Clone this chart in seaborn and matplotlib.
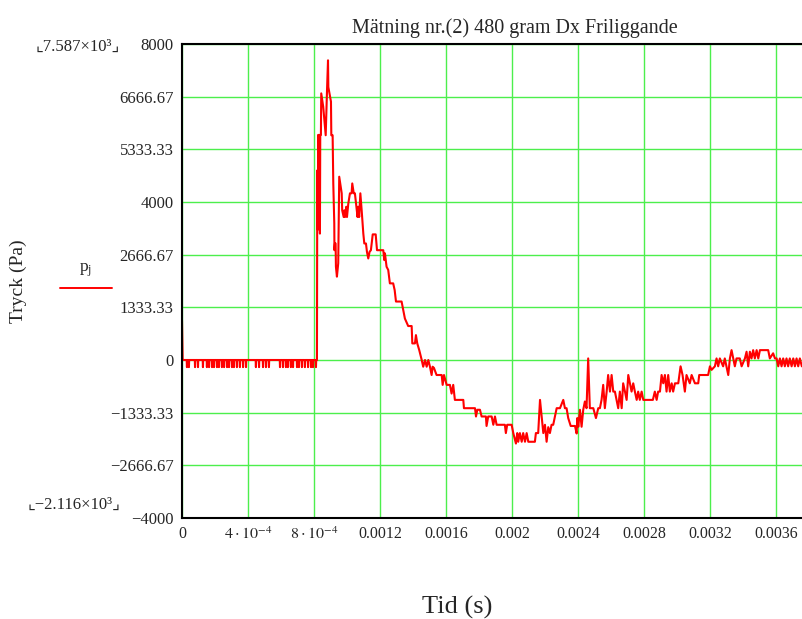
import numpy as np
import pandas as pd
import seaborn as sns
import matplotlib.pyplot as plt
from matplotlib.lines import Line2D

# baseline before the pulse: start value and the small negative dips (us)
start_pa = 1000
dip_us = [30, 42, 79, 97, 127, 151, 164, 182, 194, 212, 224, 242, 255, 273, 285,
          303, 315, 333, 351, 370, 388, 448, 467, 491, 509, 527, 594, 612, 630,
          642, 660, 673, 697, 709, 727, 745, 764, 782, 794, 812]
dip_pa = -180

# pressure pulse and decay
pulse_us = [818, 820, 823, 826, 830, 833, 836, 838, 842, 844,
            856, 871, 879, 885, 887, 903, 905, 913, 917, 923,
            924, 927, 931, 933, 939, 947, 953, 968, 971, 980,
            984, 988, 996, 1000, 1008, 1018, 1028, 1032, 1041, 1048,
            1059, 1064, 1068, 1074, 1081, 1089, 1099, 1105, 1115, 1121,
            1129, 1137, 1145, 1156, 1174, 1182, 1220, 1226, 1230, 1240,
            1250, 1260, 1280, 1289, 1297, 1331, 1341, 1351, 1371, 1392,
            1396, 1412, 1418, 1426, 1438, 1453, 1462, 1473, 1483, 1493,
            1503, 1513, 1519, 1527, 1543, 1574, 1580, 1588, 1604, 1624,
            1634, 1644, 1654, 1705, 1709, 1729, 1776, 1782, 1790, 1806,
            1816, 1842, 1846, 1856, 1877, 1887, 1897, 1907, 1917, 1957,
            1963, 1971, 1998, 2008, 2024, 2032, 2038, 2048, 2059, 2068,
            2079, 2089, 2099, 2109, 2139, 2145, 2159, 2170, 2180, 2190,
            2200, 2210, 2220, 2230, 2240, 2250, 2271]
pulse_pa = [0, 4800, 3300, 5700, 4400, 5700, 3200, 5700, 5700, 6750,
            6410, 5690, 6830, 7587, 6910, 6540, 5690, 5690, 4470, 3460,
            2780, 2950, 2950, 2360, 2110, 2450, 4640, 4220, 3790, 3620,
            3790, 3620, 3880, 3620, 3960, 4220, 4220, 4470, 4220, 4220,
            3790, 3620, 3880, 3620, 4220, 3790, 3200, 2950, 2950, 2740,
            2570, 2740, 2780, 3180, 3180, 2780, 2780, 2530, 2700, 2360,
            2280, 1940, 1940, 1770, 1480, 1480, 1260, 1050, 860, 860,
            420, 420, 630, 420, 250, 0, -170, 0, -170, 0,
            -170, -380, -170, -200, -380, -380, -630, -380, -630, -630,
            -850, -630, -1010, -1010, -1220, -1220, -1220, -1430, -1260, -1260,
            -1430, -1430, -1670, -1430, -1430, -1640, -1430, -1640, -1640, -1640,
            -1850, -1640, -1640, -1850, -2116, -1850, -2070, -1850, -2070, -1850,
            -2070, -1850, -2070, -2070, -2070, -1850, -1850, -1010, -1430, -1850,
            -1640, -2070, -1700, -1850, -1640, -1640, -1220]

# slow recovery back to zero
rec_us = [2291, 2311, 2321, 2331, 2341, 2356, 2382, 2392, 2396, 2402,
          2412, 2422, 2432, 2442, 2452, 2462, 2472, 2493, 2509, 2523,
          2533, 2543, 2553, 2563, 2574, 2583, 2594, 2604, 2614, 2624,
          2634, 2644, 2654, 2665, 2674, 2685, 2695, 2705, 2715, 2725,
          2735, 2745, 2756, 2765, 2775, 2786, 2796, 2836, 2854, 2866,
          2877, 2886, 2897, 2907, 2917, 2927, 2937, 2947, 2957, 2968,
          2977, 2988, 3008, 3022, 3034, 3048, 3058, 3078, 3089, 3109,
          3129, 3135, 3189, 3200, 3210, 3230, 3240, 3250, 3260, 3280,
          3290, 3311, 3321, 3331, 3341, 3351, 3361, 3381, 3392, 3412,
          3422, 3432, 3442, 3452, 3462, 3472, 3483, 3493, 3503, 3553,
          3563, 3583, 3594, 3604, 3614, 3624, 3634, 3644, 3654, 3664,
          3674, 3684, 3695, 3705, 3715, 3725, 3735, 3745, 3757]
rec_pa = [-1220, -1010, -1220, -1220, -1470, -1670, -1670, -1860, -1470, -1690,
          -1260, -1690, -1260, -1050, -1220, 40, -1220, -1220, -1470, -1220,
          -1220, -1010, -630, -1220, -800, -380, -800, -380, -800, -800,
          -1010, -1220, -800, -1220, -590, -800, -1010, -380, -590, -800,
          -590, -800, -1010, -800, -1010, -800, -1010, -1010, -1010, -800,
          -1010, -800, -800, -380, -590, -380, -800, -380, -800, -590,
          -800, -590, -590, -160, -380, -800, -380, -590, -380, -590,
          -590, -380, -380, -160, -250, -160, 40, -160, 40, -160,
          40, -380, 40, 250, 40, -160, 40, 40, -160, 40,
          210, -160, 210, 40, 250, 40, 250, 40, 250, 250,
          40, 170, 40, 40, -160, 40, -160, 40, -160, 40,
          -160, 40, -160, 40, -160, 40, -160, 40, -160]

xticks = [0, 4e-4, 8e-4, 0.0012, 0.0016, 0.002, 0.0024, 0.0028, 0.0032, 0.0036]
xtick_labels = ["0", r"$4\cdot10^{-4}$", r"$8\cdot10^{-4}$", "0.0012", "0.0016",
                "0.002", "0.0024", "0.0028", "0.0032", "0.0036"]
yticks = np.linspace(-4000, 8000, 10)
ytick_labels = ["\u22124000", "\u22122666.67", "\u22121333.33", "0", "1333.33",
                "2666.67", "4000", "5333.33", "6666.67", "8000"]

# assemble the series
t = [0, 4]
p = [start_pa, 0]
for d in dip_us:
    t += [d - 1.5, d, d + 1.5]
    p += [0, dip_pa, 0]
t += [816] + pulse_us + rec_us
p += [0] + pulse_pa + rec_pa
df = pd.DataFrame({"t": np.array(t) * 1e-6, "p": p})

sns.set_style("white")
plt.rcParams["font.family"] = ["Liberation Serif", "DejaVu Sans"]
plt.rcParams["mathtext.fontset"] = "stix"

fig = plt.figure(figsize=(8.02, 6.19), dpi=100)
ax = fig.add_axes([182 / 802, 101 / 619, 620 / 802, 474 / 619])

sns.lineplot(data=df, x="t", y="p", estimator=None, sort=False,
             color="red", linewidth=1.5, ax=ax)

ax.set_xlim(0, 0.003758)
ax.set_ylim(-4000, 8000)
ax.set_xticks(xticks)
ax.set_xticklabels(xtick_labels, fontsize=11.5)
ax.set_yticks(yticks)
ax.set_yticklabels(ytick_labels, fontsize=12)
ax.tick_params(length=0, pad=6)
ax.grid(True, color="#4cef4c", linewidth=1)
ax.set_axisbelow(True)
ax.set_xlabel("")
ax.set_ylabel("")
for side in ["left", "bottom", "top"]:
    ax.spines[side].set_color("black")
    ax.spines[side].set_linewidth(1.5)
ax.spines["right"].set_visible(False)

fig.text(515 / 802, 1 - 28 / 619, "Mätning nr.(2) 480 gram Dx Friliggande",
         ha="center", va="center", fontsize=14.5)
fig.text(457 / 802, 1 - 607 / 619, "Tid (s)", ha="center", va="center", fontsize=19)
fig.text(18 / 802, 1 - 281 / 619, "Tryck (Pa)", ha="center", va="center",
         rotation=90, fontsize=14)
fig.text(120 / 802, 1 - 47 / 619, "\u231e7.587×10³\u231f", ha="right", va="center",
         fontsize=12)
fig.text(120 / 802, 1 - 505 / 619, "\u231e\u22122.116×10³\u231f", ha="right",
         va="center", fontsize=12)

# legend: series name above a short red line
fig.text(86 / 802, 1 - 270 / 619, r"$\mathregular{p_j}$", ha="center", va="center",
         fontsize=12.5)
fig.add_artist(Line2D([60 / 802, 112 / 802], [1 - 288 / 619] * 2,
                      transform=fig.transFigure, color="red", linewidth=1.4))

fig.savefig("out.png", dpi=100)
